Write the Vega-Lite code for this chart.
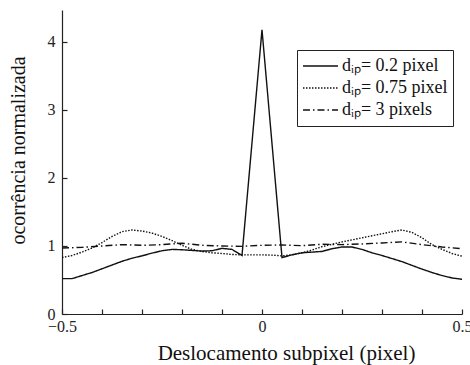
{
  "$schema": "https://vega.github.io/schema/vega-lite/v6.json",
  "width": 400,
  "height": 304,
  "autosize": {"type": "none"},
  "padding": {"left": 62, "top": 10, "right": 8, "bottom": 51},
  "background": "white",
  "config": {
    "view": {"stroke": null},
    "font": "Liberation Serif",
    "axis": {
      "grid": false,
      "domainColor": "#222",
      "domainWidth": 1.2,
      "tickColor": "#222",
      "tickWidth": 1.2,
      "labelFont": "Liberation Serif",
      "labelFontSize": 16,
      "labelColor": "#222",
      "titleFont": "Liberation Serif",
      "titleFontWeight": "normal",
      "titleColor": "#111"
    },
    "legend": {
      "labelFont": "Liberation Serif",
      "labelFontSize": 18,
      "labelColor": "#111"
    }
  },
  "datasets": {
    "curves": [
      {"series": "dᵢₚ= 0.2 pixel", "x": -0.5, "y": 0.52},
      {"series": "dᵢₚ= 0.2 pixel", "x": -0.475, "y": 0.52},
      {"series": "dᵢₚ= 0.2 pixel", "x": -0.45, "y": 0.565},
      {"series": "dᵢₚ= 0.2 pixel", "x": -0.425, "y": 0.61},
      {"series": "dᵢₚ= 0.2 pixel", "x": -0.4, "y": 0.665},
      {"series": "dᵢₚ= 0.2 pixel", "x": -0.375, "y": 0.72},
      {"series": "dᵢₚ= 0.2 pixel", "x": -0.35, "y": 0.775},
      {"series": "dᵢₚ= 0.2 pixel", "x": -0.325, "y": 0.82},
      {"series": "dᵢₚ= 0.2 pixel", "x": -0.3, "y": 0.855},
      {"series": "dᵢₚ= 0.2 pixel", "x": -0.275, "y": 0.895},
      {"series": "dᵢₚ= 0.2 pixel", "x": -0.25, "y": 0.93},
      {"series": "dᵢₚ= 0.2 pixel", "x": -0.225, "y": 0.95},
      {"series": "dᵢₚ= 0.2 pixel", "x": -0.2, "y": 0.945},
      {"series": "dᵢₚ= 0.2 pixel", "x": -0.175, "y": 0.935},
      {"series": "dᵢₚ= 0.2 pixel", "x": -0.15, "y": 0.925},
      {"series": "dᵢₚ= 0.2 pixel", "x": -0.125, "y": 0.93},
      {"series": "dᵢₚ= 0.2 pixel", "x": -0.1, "y": 0.965},
      {"series": "dᵢₚ= 0.2 pixel", "x": -0.075, "y": 0.95},
      {"series": "dᵢₚ= 0.2 pixel", "x": -0.05, "y": 0.86},
      {"series": "dᵢₚ= 0.2 pixel", "x": 0, "y": 4.18},
      {"series": "dᵢₚ= 0.2 pixel", "x": 0.05, "y": 0.83},
      {"series": "dᵢₚ= 0.2 pixel", "x": 0.075, "y": 0.87},
      {"series": "dᵢₚ= 0.2 pixel", "x": 0.1, "y": 0.9},
      {"series": "dᵢₚ= 0.2 pixel", "x": 0.125, "y": 0.91},
      {"series": "dᵢₚ= 0.2 pixel", "x": 0.15, "y": 0.92},
      {"series": "dᵢₚ= 0.2 pixel", "x": 0.175, "y": 0.96},
      {"series": "dᵢₚ= 0.2 pixel", "x": 0.2, "y": 0.985},
      {"series": "dᵢₚ= 0.2 pixel", "x": 0.225, "y": 0.985},
      {"series": "dᵢₚ= 0.2 pixel", "x": 0.25, "y": 0.95},
      {"series": "dᵢₚ= 0.2 pixel", "x": 0.275, "y": 0.9},
      {"series": "dᵢₚ= 0.2 pixel", "x": 0.3, "y": 0.86},
      {"series": "dᵢₚ= 0.2 pixel", "x": 0.325, "y": 0.815},
      {"series": "dᵢₚ= 0.2 pixel", "x": 0.35, "y": 0.77},
      {"series": "dᵢₚ= 0.2 pixel", "x": 0.375, "y": 0.715},
      {"series": "dᵢₚ= 0.2 pixel", "x": 0.4, "y": 0.66},
      {"series": "dᵢₚ= 0.2 pixel", "x": 0.425, "y": 0.61},
      {"series": "dᵢₚ= 0.2 pixel", "x": 0.45, "y": 0.565},
      {"series": "dᵢₚ= 0.2 pixel", "x": 0.475, "y": 0.53},
      {"series": "dᵢₚ= 0.2 pixel", "x": 0.5, "y": 0.51},

      {"series": "dᵢₚ= 0.75 pixel", "x": -0.5, "y": 0.83},
      {"series": "dᵢₚ= 0.75 pixel", "x": -0.475, "y": 0.86},
      {"series": "dᵢₚ= 0.75 pixel", "x": -0.45, "y": 0.91},
      {"series": "dᵢₚ= 0.75 pixel", "x": -0.425, "y": 0.97},
      {"series": "dᵢₚ= 0.75 pixel", "x": -0.4, "y": 1.05},
      {"series": "dᵢₚ= 0.75 pixel", "x": -0.375, "y": 1.14},
      {"series": "dᵢₚ= 0.75 pixel", "x": -0.35, "y": 1.21},
      {"series": "dᵢₚ= 0.75 pixel", "x": -0.325, "y": 1.235},
      {"series": "dᵢₚ= 0.75 pixel", "x": -0.3, "y": 1.22},
      {"series": "dᵢₚ= 0.75 pixel", "x": -0.275, "y": 1.19},
      {"series": "dᵢₚ= 0.75 pixel", "x": -0.25, "y": 1.14},
      {"series": "dᵢₚ= 0.75 pixel", "x": -0.225, "y": 1.08},
      {"series": "dᵢₚ= 0.75 pixel", "x": -0.2, "y": 1.01},
      {"series": "dᵢₚ= 0.75 pixel", "x": -0.175, "y": 0.95},
      {"series": "dᵢₚ= 0.75 pixel", "x": -0.15, "y": 0.92},
      {"series": "dᵢₚ= 0.75 pixel", "x": -0.125, "y": 0.9},
      {"series": "dᵢₚ= 0.75 pixel", "x": -0.1, "y": 0.89},
      {"series": "dᵢₚ= 0.75 pixel", "x": -0.075, "y": 0.875},
      {"series": "dᵢₚ= 0.75 pixel", "x": -0.05, "y": 0.87},
      {"series": "dᵢₚ= 0.75 pixel", "x": -0.025, "y": 0.87},
      {"series": "dᵢₚ= 0.75 pixel", "x": 0, "y": 0.87},
      {"series": "dᵢₚ= 0.75 pixel", "x": 0.025, "y": 0.865},
      {"series": "dᵢₚ= 0.75 pixel", "x": 0.05, "y": 0.855},
      {"series": "dᵢₚ= 0.75 pixel", "x": 0.075, "y": 0.87},
      {"series": "dᵢₚ= 0.75 pixel", "x": 0.1, "y": 0.9},
      {"series": "dᵢₚ= 0.75 pixel", "x": 0.125, "y": 0.94},
      {"series": "dᵢₚ= 0.75 pixel", "x": 0.15, "y": 0.99},
      {"series": "dᵢₚ= 0.75 pixel", "x": 0.175, "y": 1.025},
      {"series": "dᵢₚ= 0.75 pixel", "x": 0.2, "y": 1.06},
      {"series": "dᵢₚ= 0.75 pixel", "x": 0.225, "y": 1.09},
      {"series": "dᵢₚ= 0.75 pixel", "x": 0.25, "y": 1.12},
      {"series": "dᵢₚ= 0.75 pixel", "x": 0.275, "y": 1.15},
      {"series": "dᵢₚ= 0.75 pixel", "x": 0.3, "y": 1.18},
      {"series": "dᵢₚ= 0.75 pixel", "x": 0.325, "y": 1.21},
      {"series": "dᵢₚ= 0.75 pixel", "x": 0.35, "y": 1.235},
      {"series": "dᵢₚ= 0.75 pixel", "x": 0.375, "y": 1.2},
      {"series": "dᵢₚ= 0.75 pixel", "x": 0.4, "y": 1.12},
      {"series": "dᵢₚ= 0.75 pixel", "x": 0.425, "y": 1.02},
      {"series": "dᵢₚ= 0.75 pixel", "x": 0.45, "y": 0.95},
      {"series": "dᵢₚ= 0.75 pixel", "x": 0.475, "y": 0.89},
      {"series": "dᵢₚ= 0.75 pixel", "x": 0.5, "y": 0.85},

      {"series": "dᵢₚ= 3 pixels", "x": -0.5, "y": 0.97},
      {"series": "dᵢₚ= 3 pixels", "x": -0.45, "y": 0.98},
      {"series": "dᵢₚ= 3 pixels", "x": -0.4, "y": 1.0},
      {"series": "dᵢₚ= 3 pixels", "x": -0.35, "y": 1.02},
      {"series": "dᵢₚ= 3 pixels", "x": -0.3, "y": 1.01},
      {"series": "dᵢₚ= 3 pixels", "x": -0.25, "y": 1.02},
      {"series": "dᵢₚ= 3 pixels", "x": -0.2, "y": 1.04},
      {"series": "dᵢₚ= 3 pixels", "x": -0.15, "y": 1.01},
      {"series": "dᵢₚ= 3 pixels", "x": -0.1, "y": 1.0},
      {"series": "dᵢₚ= 3 pixels", "x": -0.05, "y": 0.995},
      {"series": "dᵢₚ= 3 pixels", "x": 0, "y": 1.01},
      {"series": "dᵢₚ= 3 pixels", "x": 0.05, "y": 1.015},
      {"series": "dᵢₚ= 3 pixels", "x": 0.1, "y": 1.005},
      {"series": "dᵢₚ= 3 pixels", "x": 0.15, "y": 1.025},
      {"series": "dᵢₚ= 3 pixels", "x": 0.2, "y": 1.02},
      {"series": "dᵢₚ= 3 pixels", "x": 0.25, "y": 1.03},
      {"series": "dᵢₚ= 3 pixels", "x": 0.3, "y": 1.045},
      {"series": "dᵢₚ= 3 pixels", "x": 0.35, "y": 1.06},
      {"series": "dᵢₚ= 3 pixels", "x": 0.4, "y": 1.02},
      {"series": "dᵢₚ= 3 pixels", "x": 0.45, "y": 0.985},
      {"series": "dᵢₚ= 3 pixels", "x": 0.5, "y": 0.96}
    ]
  },
  "data": {"name": "curves"},
  "mark": {"type": "line", "color": "#111", "strokeWidth": 1.4},
  "encoding": {
    "x": {
      "field": "x",
      "type": "quantitative",
      "scale": {"domain": [-0.5, 0.5], "nice": false, "zero": false},
      "axis": {
        "title": "Deslocamento subpixel (pixel)",
        "titleFontSize": 21,
        "titleX": 224,
        "values": [-0.5, -0.4, -0.3, -0.2, -0.1, 0, 0.1, 0.2, 0.3, 0.4, 0.5],
        "format": ".1~f",
        "labelExpr": "abs(datum.value) < 0.001 || abs(abs(datum.value) - 0.5) < 0.001 ? datum.label : ''",
        "tickSize": -5,
        "labelPadding": 9,
        "labelFlush": false,
        "labelOverlap": false,
        "titlePadding": 8
      }
    },
    "y": {
      "field": "y",
      "type": "quantitative",
      "scale": {"domain": [0, 4.47], "nice": false},
      "axis": {
        "title": "ocorrência normalizada",
        "titleFontSize": 20,
        "titleY": 140,
        "values": [0, 1, 2, 3, 4],
        "tickSize": -5,
        "labelPadding": 12,
        "labelFlush": false,
        "titlePadding": 19
      }
    },
    "strokeDash": {
      "field": "series",
      "type": "nominal",
      "scale": {
        "domain": ["dᵢₚ= 0.2 pixel", "dᵢₚ= 0.75 pixel", "dᵢₚ= 3 pixels"],
        "range": [[1, 0], [1.5, 1.5], [7, 3, 1.5, 3]]
      },
      "legend": {
        "title": null,
        "orient": "none",
        "legendX": 235,
        "legendY": 40,
        "symbolType": "stroke",
        "symbolSize": 1225,
        "symbolStrokeWidth": 1.4,
        "symbolStrokeColor": "#111",
        "strokeColor": "#222",
        "fillColor": "white",
        "padding": 5,
        "clipHeight": 22,
        "rowPadding": 0,
        "labelOffset": 3,
        "labelLimit": 0
      }
    }
  }
}
